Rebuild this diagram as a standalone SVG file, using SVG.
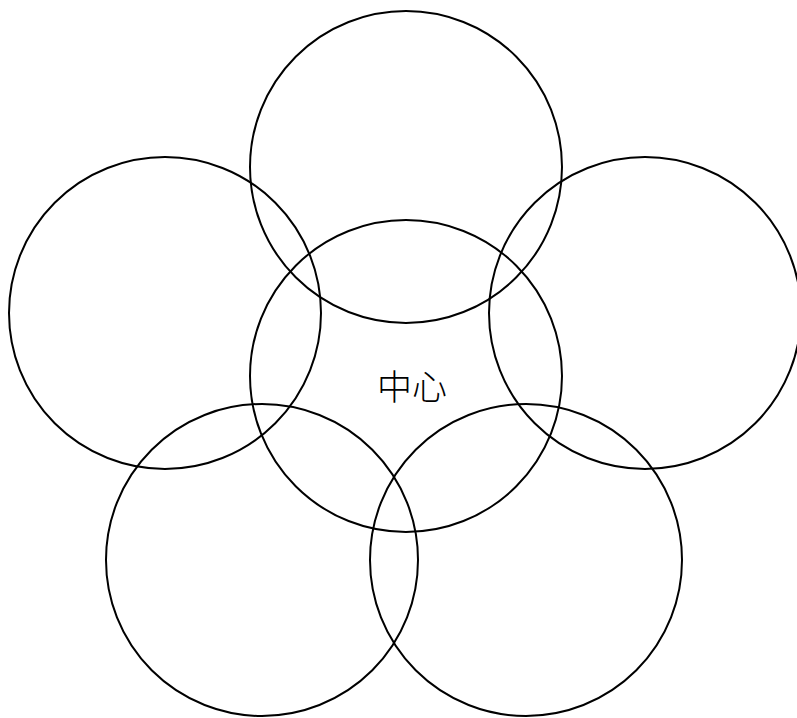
<svg xmlns="http://www.w3.org/2000/svg" width="797" height="718" viewBox="0 0 797 718">
<style>
.c{fill:none;stroke:#000;stroke-width:2}
.t{font-family:"Noto Sans CJK SC","Liberation Serif",serif;font-size:35px;font-weight:300;fill:#000;text-anchor:middle}
</style>
<rect width="797" height="718" fill="#fff"/>
<g id="top"><circle class="c" cx="406" cy="167" r="156"/></g>
<g id="left"><circle class="c" cx="165" cy="313" r="156"/></g>
<g id="right"><circle class="c" cx="645" cy="313" r="156"/></g>
<g id="bottom-left"><circle class="c" cx="262" cy="560" r="156"/></g>
<g id="bottom-right"><circle class="c" cx="526" cy="560" r="156"/></g>
<g id="center"><circle class="c" cx="406" cy="376" r="156"/><text class="t" x="412" y="400">中心</text></g>
<g id="connectors"/>
</svg>
